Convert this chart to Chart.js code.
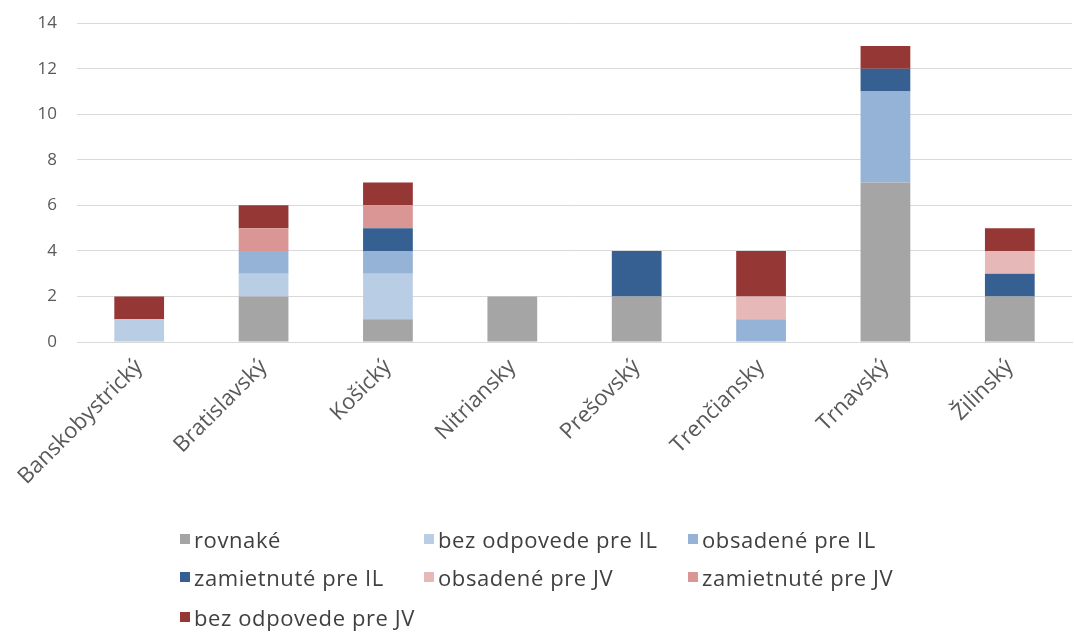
<!DOCTYPE html>
<html>
<head>
<meta charset="utf-8">
<script src="https://cdn.jsdelivr.net/npm/chart.js@4.4.1/dist/chart.umd.min.js"></script>
<style>
    body { margin: 0; background: #fff; font-family: 'Open Sans', sans-serif; }
    #wrap { position: relative; width: 1074px; height: 632px; overflow: hidden; }
    #chartBox { position: absolute; left: 0; top: -7px; width: 1074px; height: 522px; }
    #legend { position: absolute; left: 0; top: 0; width: 1074px; height: 632px; pointer-events: none; }
    .item { position: absolute; display: flex; align-items: center; font-size: 22px; letter-spacing: 0.6px; color: #404040; white-space: nowrap; }
    .box { width: 10px; height: 10px; margin-right: 4px; }
</style>
</head>
<body>
<div id="wrap">
    <div id="chartBox"><canvas id="grafKraje"></canvas></div>
    <div id="legend"></div>
</div>
<script>
// kraje
const kraje = ['Banskobystrický', 'Bratislavský', 'Košický', 'Nitriansky', 'Prešovský', 'Trenčiansky', 'Trnavský', 'Žilinský'];

// hodnoty jednotlivych kategorii
const rovnake = [0, 2, 1, 2, 2, 0, 7, 2];
const bezOdpovedeIL = [1, 1, 2, 0, 0, 0, 0, 0];
const obsadeneIL = [0, 1, 1, 0, 0, 1, 4, 0];
const zamietnuteIL = [0, 0, 1, 0, 2, 0, 1, 1];
const obsadeneJV = [0, 0, 0, 0, 0, 1, 0, 1];
const zamietnuteJV = [0, 1, 1, 0, 0, 0, 0, 0];
const bezOdpovedeJV = [1, 1, 1, 0, 0, 2, 1, 1];

const yTicks = [0, 2, 4, 6, 8, 10, 12, 14];

const series = [
    { label: 'rovnaké', data: rovnake, color: '#a5a5a5' },
    { label: 'bez odpovede pre IL', data: bezOdpovedeIL, color: '#b9cde5' },
    { label: 'obsadené pre IL', data: obsadeneIL, color: '#95b3d7' },
    { label: 'zamietnuté pre IL', data: zamietnuteIL, color: '#366092' },
    { label: 'obsadené pre JV', data: obsadeneJV, color: '#e6b9b8' },
    { label: 'zamietnuté pre JV', data: zamietnuteJV, color: '#d99694' },
    { label: 'bez odpovede pre JV', data: bezOdpovedeJV, color: '#953735' }
];

document.addEventListener('DOMContentLoaded', function() {
    initChart();
    buildLegend();
});

function initChart() {
    const ctx = document.getElementById('grafKraje').getContext('2d');
    new Chart(ctx, {
        type: 'bar',
        data: {
            labels: kraje,
            datasets: series.map(s => ({
                label: s.label,
                data: s.data,
                backgroundColor: s.color,
                borderWidth: 0,
                categoryPercentage: 1,
                barPercentage: 0.4
            }))
        },
        options: {
            responsive: true,
            maintainAspectRatio: false,
            animation: false,
            layout: { padding: { left: 0, right: 2, top: 7, bottom: 0 } },
            plugins: {
                legend: { display: false },
                tooltip: { enabled: false }
            },
            scales: {
                x: {
                    stacked: true,
                    grid: { display: false },
                    border: { color: '#d9d9d9' },
                    afterFit: axis => { axis.height = 173; },
                    ticks: {
                        color: '#595959',
                        font: { family: 'Open Sans', size: 22 },
                        maxRotation: 45,
                        minRotation: 45,
                        autoSkip: false,
                        padding: 4
                    }
                },
                y: {
                    stacked: true,
                    min: 0,
                    max: 14,
                    afterBuildTicks: axis => { axis.ticks = yTicks.map(v => ({ value: v })); },
                    afterFit: axis => { axis.width = 77; },
                    grid: { color: '#d9d9d9', drawTicks: false },
                    border: { display: false },
                    ticks: {
                        color: '#595959',
                        font: { family: 'Open Sans', size: 17 },
                        padding: 20
                    }
                }
            }
        }
    });
}

function buildLegend() {
    // rozmiestnenie legendy ako v povodnom grafe (3 stlpce)
    const cols = [180, 424, 688];
    const rows = [540, 578, 618];
    const legend = document.getElementById('legend');
    series.forEach((s, i) => {
        const el = document.createElement('div');
        el.className = 'item';
        el.style.left = cols[i % 3] + 'px';
        el.style.top = (rows[Math.floor(i / 3)] - 16) + 'px';
        el.innerHTML = `<span class="box" style="background:${s.color}"></span>${s.label}`;
        legend.appendChild(el);
    });
}
</script>
</body>
</html>
